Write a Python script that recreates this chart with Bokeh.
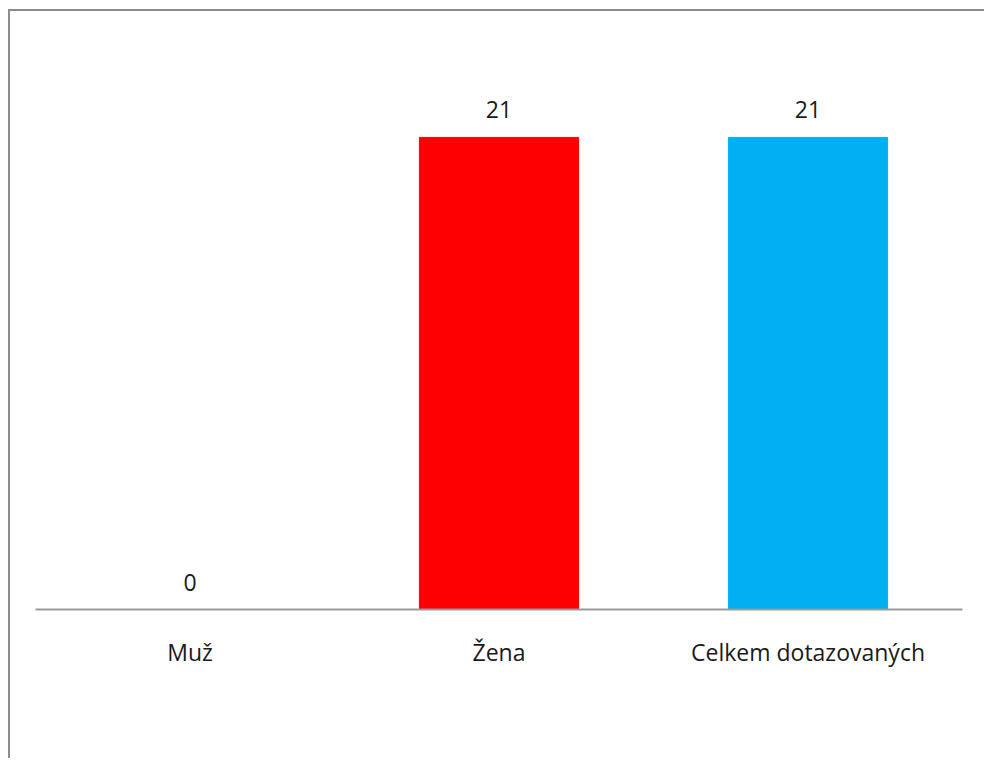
from bokeh.plotting import figure
from bokeh.models import ColumnDataSource, LabelSet, Range1d
from bokeh.core.properties import value
from bokeh.embed import file_html
from bokeh.resources import INLINE

categories = ["Muž", "Žena", "Celkem dotazovaných"]
values = [0, 21, 21]
colors = ["#FF0000", "#FF0000", "#00B0F0"]
labels = [str(v) for v in values]

src = ColumnDataSource(dict(cat=categories, val=values, color=colors, lab=labels))

p = figure(x_range=categories, y_range=Range1d(0, 25), width=976, height=749,
           output_backend="svg", toolbar_location=None,
           min_border_left=25, min_border_right=24, min_border_top=36, min_border_bottom=151)
p.styles = {"margin-left": "8px", "margin-top": "9px",
            "border-left": "2px solid #8c8c8c", "border-top": "2px solid #8c8c8c"}
p.vbar(x="cat", top="val", width=0.515, color="color", source=src)

p.add_layout(LabelSet(x="cat", y="val", text="lab", source=src, y_offset=19,
                      text_align="center", text_baseline="alphabetic",
                      text_font=value("Open Sans"), text_font_size="23px", text_color="#1a1a1a"))

p.yaxis.visible = False
p.xgrid.visible = False
p.ygrid.visible = False
p.outline_line_color = None
p.xaxis.axis_line_color = "#9a9a9a"
p.xaxis.axis_line_width = 2
p.xaxis.major_tick_line_color = None
p.xaxis.minor_tick_line_color = None
p.xaxis.major_label_text_font = "Open Sans"
p.xaxis.major_label_text_font_size = "23px"
p.xaxis.major_label_text_color = "#1a1a1a"
p.xaxis.major_label_standoff = 20
p.x_range.range_padding = 0

open("out.html", "w").write(file_html(p, INLINE))
